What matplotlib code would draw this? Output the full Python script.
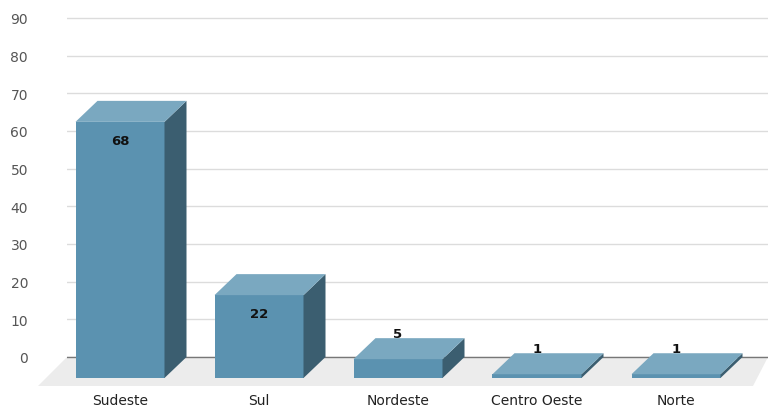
import matplotlib.pyplot as plt
from matplotlib.patches import Polygon

plt.rcParams['font.family'] = ['DejaVu Sans']

regioes = ["Sudeste", "Sul", "Nordeste", "Centro Oeste", "Norte"]
valores = [68, 22, 5, 1, 1]
yticks = list(range(0, 100, 10))

# cores das faces
c_frente = "#5b92b0"
c_topo = "#7aa8c0"
c_lado = "#3b5e70"
c_chao = "#ececec"

W, H = 768, 410
px_y = 339 / 90.0      # pixels por unidade
px_x = 139.0           # pixels por categoria
y0_px = 358            # linha do zero (de cima)

fig = plt.figure(figsize=(W / 100, H / 100), dpi=100)
left = 67
ax = fig.add_axes([left / W, 0, (W - left) / W, 1])
ax.set_ylim(-(H - y0_px) / px_y, y0_px / px_y)
ax.set_xlim(-(120 - left) / px_x, -(120 - left) / px_x + (W - left) / px_x)

larg = 89 / px_x
dx = 22 / px_x
dy = 21 / px_y

# chao
fdx = 29 / px_x
fdy = 29 / px_y
xl, xr = ax.get_xlim()
chao = Polygon([(xl, 0), (xr, 0), (xr - 15 / px_x, -fdy), (xl - fdx, -fdy)],
               closed=True, facecolor=c_chao, edgecolor="none", zorder=1, clip_on=False)
ax.add_patch(chao)

ax.set_yticks(yticks)
ax.yaxis.grid(True, color="#dcdcdc", linewidth=1)
ax.set_axisbelow(True)
ax.axhline(0, color="#777777", linewidth=1, zorder=1.5)
ax.set_xticks([])
for s in ax.spines.values():
    s.set_visible(False)
ax.tick_params(axis="y", length=0, pad=28, labelsize=10, labelcolor="#555555")

for i, v in enumerate(valores):
    x0 = i - larg / 2
    x1 = i + larg / 2
    frente = Polygon([(x0, -dy), (x1, -dy), (x1, v - dy), (x0, v - dy)],
                     facecolor=c_frente, edgecolor="none", zorder=3)
    lado = Polygon([(x1, -dy), (x1 + dx, 0), (x1 + dx, v), (x1, v - dy)],
                   facecolor=c_lado, edgecolor="none", zorder=3)
    topo = Polygon([(x0, v - dy), (x1, v - dy), (x1 + dx, v), (x0 + dx, v)],
                   facecolor=c_topo, edgecolor="none", zorder=3)
    for p in (frente, lado, topo):
        ax.add_patch(p)
    if v > 10:
        ty = v - dy - 5
    else:
        ty = v + 1.2
    ax.text(i, ty, str(v), ha="center", va="center", fontsize=9.5,
            fontweight="bold", color="#111111", zorder=4)
    ax.text(i, -(401 - y0_px) / px_y, regioes[i], ha="center", va="center",
            fontsize=10, color="#222222")

fig.savefig("out.png", dpi=100)
